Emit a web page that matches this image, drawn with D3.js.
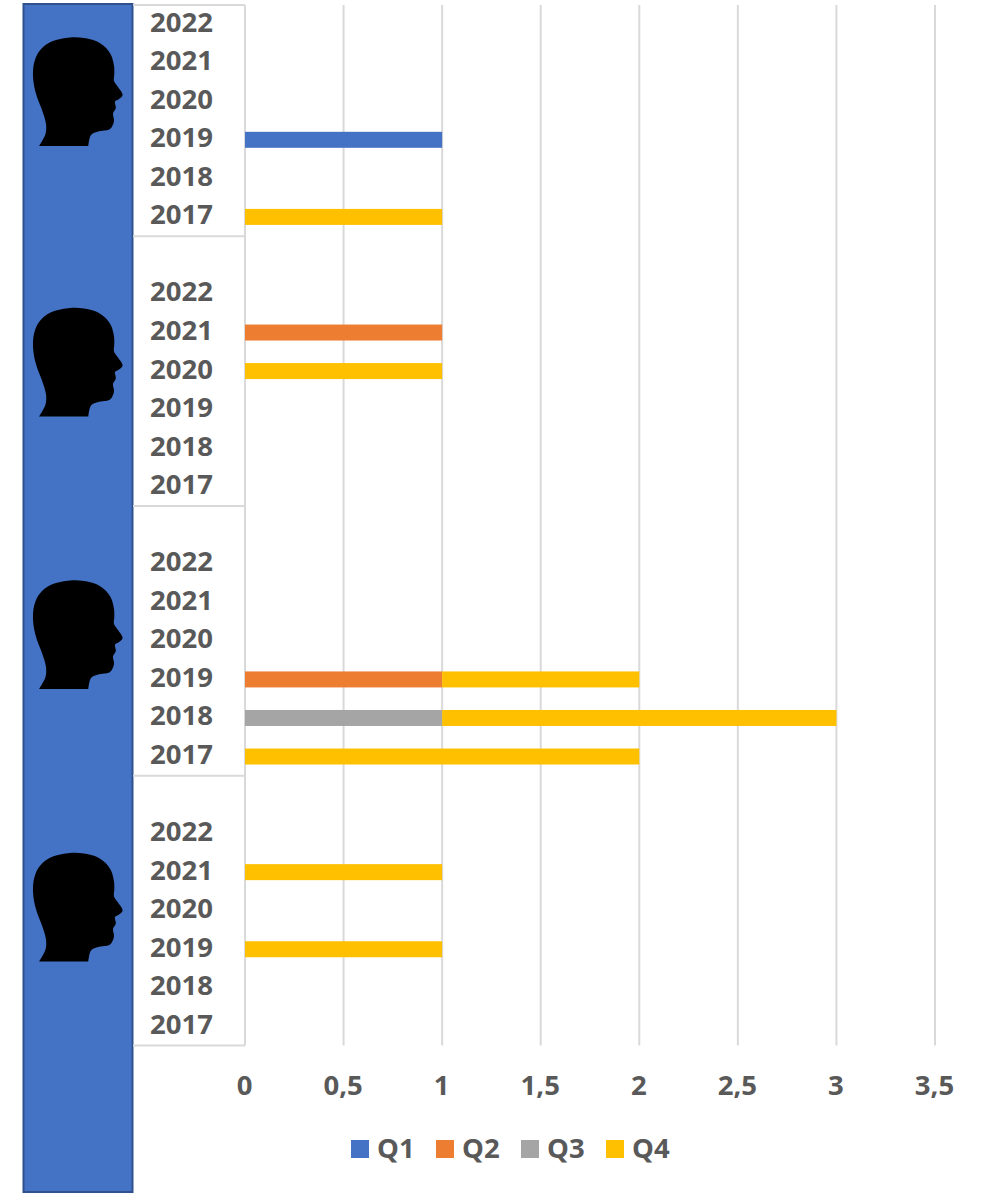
<!DOCTYPE html>
<html><head><meta charset="utf-8">
<script src="https://cdnjs.cloudflare.com/ajax/libs/d3/7.8.5/d3.min.js"></script>
<style>html,body{margin:0;padding:0;background:#fff}svg{display:block}
text{font-family:"Open Sans",sans-serif;font-weight:700;fill:#595959;font-size:27.5px}</style>
</head><body><div id="c"></div>
<script>
const years = ["2022","2021","2020","2019","2018","2017"];
const groupNames = ["A","B","C","D"];
const seriesNames = ["Q1","Q2","Q3","Q4"];
const seriesColors = ["#4472C4","#ED7D31","#A5A5A5","#FFC000"];
const xTicks = [0,0.5,1,1.5,2,2.5,3,3.5];
// values per group, in the order of the years array
const q1 = [[0,0,0,1,0,0],[0,0,0,0,0,0],[0,0,0,0,0,0],[0,0,0,0,0,0]];
const q2 = [[0,0,0,0,0,0],[0,1,0,0,0,0],[0,0,0,1,0,0],[0,0,0,0,0,0]];
const q3 = [[0,0,0,0,0,0],[0,0,0,0,0,0],[0,0,0,0,1,0],[0,0,0,0,0,0]];
const q4 = [[0,0,0,0,0,1],[0,0,1,0,0,0],[0,0,0,1,2,2],[0,1,0,1,0,0]];

const W=986,H=1193, plotTop=5, plotBottom=1045.5;
const svg=d3.select("#c").append("svg").attr("width",W).attr("height",H);

// rows: a blank slot separates groups
const rows=[];
groupNames.forEach((g,gi)=>{
  if(gi>0) rows.push({key:g+"-gap",gap:true});
  years.forEach((yr,yi)=>rows.push({key:g+"-"+yr,year:yr,Q1:q1[gi][yi],Q2:q2[gi][yi],Q3:q3[gi][yi],Q4:q4[gi][yi]}));
});
const y=d3.scaleBand().domain(rows.map(r=>r.key)).range([plotTop,plotBottom]).paddingInner(0.585).paddingOuter(0.29);
const x=d3.scaleLinear().domain([0,3.5]).range([245,935]);
const step=y.step();
const yc=k=>y(k)+y.bandwidth()/2;

// left panel
svg.append("rect").attr("x",23.5).attr("y",4).attr("width",109).attr("height",1188)
  .attr("fill","#4472C4").attr("stroke","#2F528F").attr("stroke-width",2);

// gridlines
svg.append("g").selectAll("line").data(xTicks).join("line")
  .attr("x1",d=>x(d)).attr("x2",d=>x(d)).attr("y1",plotTop).attr("y2",plotBottom)
  .attr("stroke","#D9D9D9").attr("stroke-width",2);

// group separators
const sepYs=[plotTop].concat(groupNames.map((g,i)=>yc(g+"-2017")+step/2));
svg.append("g").selectAll("line").data(sepYs).join("line")
  .attr("x1",133).attr("x2",245).attr("y1",d=>d).attr("y2",d=>d)
  .attr("stroke","#D9D9D9").attr("stroke-width",2);

// bars
const stack=d3.stack().keys(seriesNames);
const layers=stack(rows.filter(r=>!r.gap));
svg.append("g").selectAll("g").data(layers).join("g")
  .attr("fill",(d,i)=>seriesColors[i])
  .selectAll("rect").data(d=>d.filter(p=>p[1]>p[0])).join("rect")
  .attr("x",d=>x(d[0])).attr("width",d=>x(d[1])-x(d[0]))
  .attr("y",d=>y(d.data.key)).attr("height",y.bandwidth());

// year labels
svg.append("g").selectAll("text").data(rows.filter(r=>!r.gap)).join("text")
  .attr("x",181.5).attr("y",r=>yc(r.key)+7.5).attr("text-anchor","middle").text(r=>r.year);

// x axis labels
svg.append("g").selectAll("text").data(xTicks).join("text")
  .attr("x",d=>x(d)-0.5).attr("y",1095).attr("text-anchor","middle")
  .text(d=>String(d).replace(".",","));

// heads: smooth outline for the face and skull, flat cut at the neck
const headOutline=[[39,146],[45.5,134],[46,124],[42,110],[37,97],[33.5,82],[33.5,66],[38,53],[47,44],[58,39.5],[70,37.5],[84,38],[96,41],[105,47],[111,55],[114,66],[114.3,74],[114,81],[118,87],[122.6,95],[119,99],[115,101.5],[115.8,108],[113,113.5],[114,121],[110,129],[98,131.5],[91,135],[88.3,146]];
const headPath=d3.line().curve(d3.curveCatmullRom.alpha(0.5))(headOutline)+"Z";
svg.append("g").selectAll("path").data([0,270.5,543,815.5]).join("path")
  .attr("d",headPath).attr("transform",d=>`translate(0,${d})`).attr("fill","#000");

// legend
const legX=[351,436,521,606];
const leg=svg.append("g").selectAll("g").data(seriesNames).join("g")
  .attr("transform",(d,i)=>`translate(${legX[i]},1140)`);
leg.append("rect").attr("width",18).attr("height",18).attr("fill",(d,i)=>seriesColors[i]);
leg.append("text").attr("x",26).attr("y",18).text(d=>d);
</script></body></html>
